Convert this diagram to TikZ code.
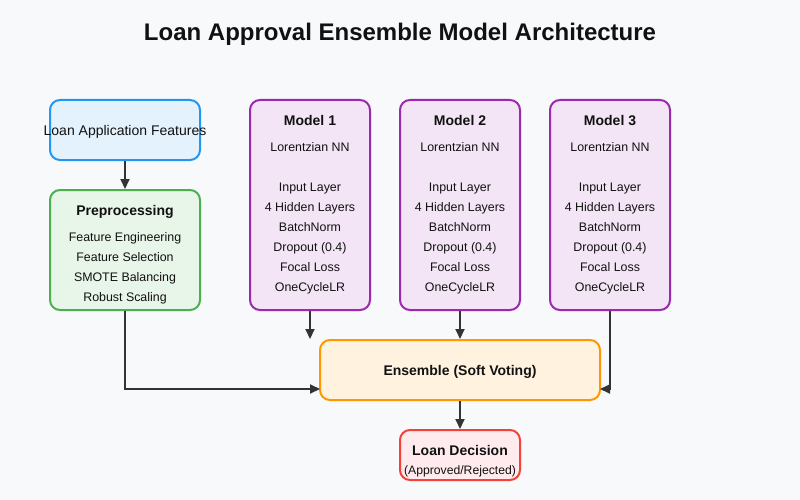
\documentclass[tikz,border=0pt]{standalone}
\usepackage{fontspec}
\setmainfont{Liberation Sans}
\usetikzlibrary{arrows.meta}
\definecolor{bg}{HTML}{F8F9FA}
\definecolor{bstroke}{HTML}{2196F3}\definecolor{bfill}{HTML}{E3F2FD}
\definecolor{gstroke}{HTML}{4CAF50}\definecolor{gfill}{HTML}{E8F5E9}
\definecolor{pstroke}{HTML}{9C27B0}\definecolor{pfill}{HTML}{F3E5F5}
\definecolor{ostroke}{HTML}{FF9800}\definecolor{ofill}{HTML}{FFF3E0}
\definecolor{rstroke}{HTML}{F44336}\definecolor{rfill}{HTML}{FFEBEE}
\definecolor{arr}{HTML}{333333}
\definecolor{txt}{HTML}{111111}
\tikzset{
  boxbase/.style={rectangle, rounded corners=10pt, line width=2pt, inner sep=0pt},
  bluebox/.style={boxbase, draw=bstroke, fill=bfill},
  greenbox/.style={boxbase, draw=gstroke, fill=gfill},
  purplebox/.style={boxbase, draw=pstroke, fill=pfill},
  orangebox/.style={boxbase, draw=ostroke, fill=ofill},
  redbox/.style={boxbase, draw=rstroke, fill=rfill},
  ttl/.style={font=\fontsize{24}{28}\selectfont\bfseries, text=txt, inner sep=0pt, anchor=mid, yshift=-6pt},
  head/.style={font=\fontsize{14}{16}\selectfont\bfseries, text=txt, inner sep=0pt, anchor=mid, yshift=-3pt},
  plain/.style={font=\fontsize{14}{16}\selectfont, text=txt, inner sep=0pt, anchor=mid, yshift=-3pt},
  item/.style={font=\fontsize{12.4}{14}\selectfont, text=txt, inner sep=0pt, anchor=mid, yshift=-2.5pt},
  small/.style={font=\fontsize{12.2}{14}\selectfont, text=txt, inner sep=0pt, anchor=mid, yshift=-2.5pt},
  conn/.style={draw=arr, line width=2pt, -{Triangle[length=10pt,width=9pt]}},
}
\begin{document}
\begin{tikzpicture}[x=1pt,y=-1pt]
\fill[bg] (0,0) rectangle (800,500);
\useasboundingbox (0,0) rectangle (800,500);
\node[ttl] (title) at (400,32) {Loan Approval Ensemble Model Architecture};

% input
\node[bluebox, minimum width=150pt, minimum height=60pt] (app) at (125,130) {};
\node[plain] (appt) at (125,130) {Loan Application Features};

% preprocessing
\node[greenbox, minimum width=150pt, minimum height=120pt] (pre) at (125,250) {};
\node[head] (pret) at (125,210) {Preprocessing};
\node[item] (pre1) at (125,236) {Feature Engineering};
\node[item] (pre2) at (125,256) {Feature Selection};
\node[item] (pre3) at (125,276) {SMOTE Balancing};
\node[item] (pre4) at (125,296) {Robust Scaling};

% models
\foreach \i/\cx in {1/310,2/460,3/610}{
  \node[purplebox, minimum width=120pt, minimum height=210pt] (m\i) at (\cx,205) {};
  \node[head] (m\i t) at (\cx,120) {Model \i};
  \node[item] (m\i a) at (\cx,146) {Lorentzian NN};
  \node[item] (m\i b) at (\cx,186) {Input Layer};
  \node[item] (m\i c) at (\cx,206) {4 Hidden Layers};
  \node[item] (m\i d) at (\cx,226) {BatchNorm};
  \node[item] (m\i e) at (\cx,246) {Dropout (0.4)};
  \node[item] (m\i f) at (\cx,266) {Focal Loss};
  \node[item] (m\i g) at (\cx,286) {OneCycleLR};
}

% ensemble
\node[orangebox, minimum width=280pt, minimum height=60pt] (ens) at (460,370) {};
\node[head] (enst) at (460,370) {Ensemble (Soft Voting)};

% decision
\node[redbox, minimum width=120pt, minimum height=50pt] (dec) at (460,455) {};
\node[head] (dect) at (460,450) {Loan Decision};
\node[small] (decs) at (460,469) {(Approved/Rejected)};

\coordinate (ensL) at (320,389);
\coordinate (ensR) at (600,389);

\draw[conn] (app.south) -- (pre.north);
\draw[conn] (pre.south) |- (ensL);
\draw[conn] (m1.south) -- (m1.south |- ens.north);
\draw[conn] (m2.south) -- (ens.north);
\draw[conn] (m3.south) |- (ensR);
\draw[conn] (ens.south) -- (dec.north);
\end{tikzpicture}
\end{document}
